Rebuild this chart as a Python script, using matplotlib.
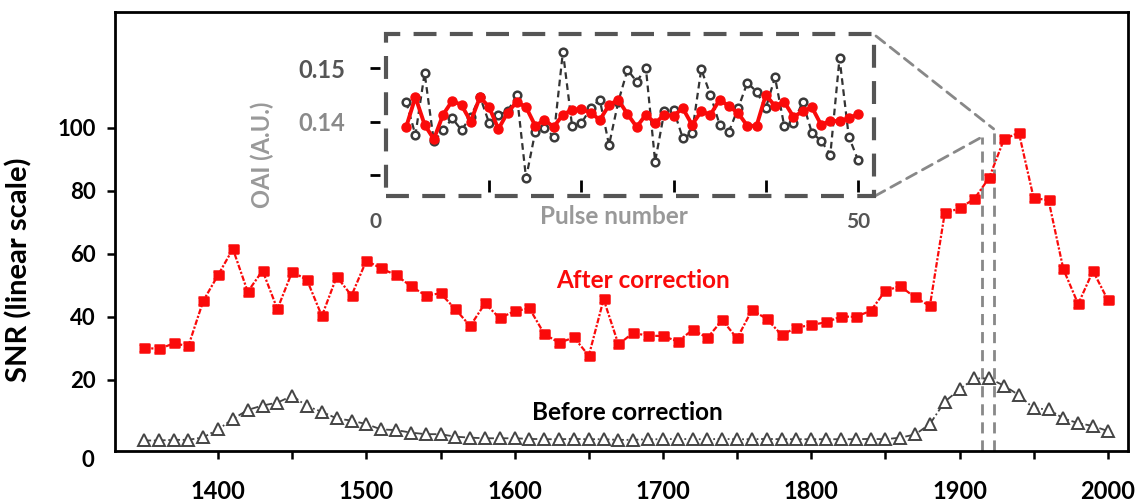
import matplotlib
matplotlib.use("Agg")
import matplotlib.pyplot as plt
from matplotlib.markers import MarkerStyle
from matplotlib.patches import Rectangle, ConnectionPatch

plt.rcParams['font.family'] = ['Lato', 'DejaVu Sans']

# ---- main spectrum data -------------------------------------------------
wavelength = list(range(1350, 2001, 10))

snr_after = [30.3, 29.8, 31.6, 30.8, 45.1, 53.3, 61.6, 48.0, 54.7, 42.5,
             54.4, 51.7, 40.3, 52.8, 46.8, 57.9, 55.4, 53.3, 49.8, 46.8,
             47.5, 42.5, 37.1, 44.3, 39.6, 41.9, 42.7, 34.6, 31.8, 33.5,
             27.7, 45.6, 31.3, 35.0, 34.0, 34.0, 32.2, 35.9, 33.4, 39.0,
             33.2, 42.2, 39.4, 34.3, 36.6, 37.5, 38.3, 40.1, 40.1, 41.9,
             48.3, 49.8, 46.2, 43.5, 72.9, 74.5, 77.5, 84.2, 96.4, 98.5,
             77.7, 77.1, 55.2, 44.1, 54.6, 45.4]

snr_before = [0.8, 0.8, 1.0, 1.0, 1.8,
              4.3, 7.6, 10.5, 11.9, 12.8, 15.0, 11.7, 9.9, 7.8, 7.1,
              6.0, 4.3, 4.1, 3.3, 2.8, 2.8, 2.0, 1.7, 1.5, 1.5, 1.5,
              1.3, 1.2, 1.2, 1.3, 1.2, 1.2, 1.0, 1.0, 1.2, 1.2, 1.3, 1.2,
              1.2, 1.3, 1.2, 1.2, 1.3, 1.2, 1.2, 1.2, 1.2, 1.2, 1.2, 1.3, 1.2,
              1.7, 2.7, 6.0, 13.1, 17.0, 20.5, 20.5, 18.2, 15.2, 11.0, 10.7,
              7.8, 6.3, 5.4, 3.8]

y_ticks = [20, 40, 60, 80, 100]
x_ticks = list(range(1400, 2001, 50))

# wavelengths picked for the pulse-to-pulse inset
marker_lines = [(1915, 97.1), (1923, 99.7)]

# ---- inset data: pulse-to-pulse OAI -------------------------------------
pulses = list(range(1, 51))
oai_after = [0.1390, 0.1446, 0.1394, 0.1367, 0.1413, 0.1439, 0.1431, 0.1400,
             0.1446, 0.1427, 0.1386, 0.1417, 0.1437, 0.1427, 0.1392, 0.1403,
             0.1390, 0.1413, 0.1422, 0.1423, 0.1417, 0.1403, 0.1431, 0.1441,
             0.1414, 0.1390, 0.1413, 0.1397, 0.1413, 0.1411, 0.1425, 0.1394,
             0.1419, 0.1413, 0.1441, 0.1429, 0.1416, 0.1392, 0.1392, 0.1450,
             0.1429, 0.1437, 0.1409, 0.1419, 0.1427, 0.1394, 0.1401, 0.1401,
             0.1406, 0.1414]
oai_before = [0.1437, 0.1375, 0.1491, 0.1363, 0.1384, 0.1406, 0.1384, 0.1409,
              0.1447, 0.1397, 0.1413, 0.1419, 0.1450, 0.1294, 0.1381, 0.1388,
              0.1372, 0.1531, 0.1391, 0.1397, 0.1425, 0.1441, 0.1356, 0.1437,
              0.1497, 0.1475, 0.1500, 0.1325, 0.1419, 0.1422, 0.1369, 0.1378,
              0.1498, 0.1450, 0.1394, 0.1381, 0.1425, 0.1473, 0.1456, 0.1425,
              0.1483, 0.1392, 0.1397, 0.1437, 0.1379, 0.1364, 0.1338, 0.1519,
              0.1372, 0.1328]

W, H = 1137, 501
RED = '#fa0a0a'
fig = plt.figure(figsize=(W / 100, H / 100), dpi=100)


def fig_box(left, top, right, bottom):
    return [left / W, 1 - bottom / H, (right - left) / W, (bottom - top) / H]


ax = fig.add_axes(fig_box(115, 12, 1128, 451))

rounded_box = MarkerStyle([(-1.3, -1), (1.3, -1), (1.3, 1), (-1.3, 1)],
                          joinstyle='round')

ax.plot(wavelength, snr_after, color=RED, lw=1.6, ls=(0, (2.5, 0.8, 1, 0.8)),
        marker=rounded_box, ms=7, mfc=RED, mec=RED, mew=1.8, zorder=3)
ax.plot(wavelength, snr_before, color='#444444', lw=1.3, ls=(0, (4, 1.5, 1, 1.5)),
        marker='^', ms=8, mfc='white', mec='#444444', mew=1.4, zorder=3)

ax.set_xlim(1330.5, 2013.6)
ax.set_ylim(-2.54, 136.8)
ax.set_yticks(y_ticks)
ax.set_yticklabels([str(v) for v in y_ticks])
ax.set_xticks(x_ticks)
ax.set_xticklabels([str(v) if v % 100 == 0 else '' for v in x_ticks])
for s in ax.spines.values():
    s.set_linewidth(2.0)
ax.tick_params(axis='both', direction='out', length=6, width=1.8)
ax.tick_params(axis='x', pad=15, labelsize=17)
ax.tick_params(axis='y', pad=8, labelsize=16)
for lab in ax.get_xticklabels() + ax.get_yticklabels():
    lab.set_fontweight('bold')

ax.text(-0.027, -5.7, '0', transform=ax.get_yaxis_transform(),
        ha='center', va='center', fontsize=16, fontweight='bold')

ax.set_ylabel('SNR (linear scale)', fontsize=21, fontweight='bold')
ax.yaxis.set_label_coords(-0.081, 0.412)

ax.text(1686.6, 51.7, 'After correction', color=RED, fontsize=17.5,
        fontweight='bold', ha='center', va='center')
ax.text(1675.8, 9.8, 'Before correction', color='black', fontsize=17.5,
        fontweight='bold', ha='center', va='center')

for xv, top in marker_lines:
    ax.plot([xv, xv], [-2.54, top], color='#888888', lw=2.0,
            ls=(0, (4, 2.5)), zorder=2, clip_on=False)

# ---- inset -----------------------------------------------------------------
axi = fig.add_axes(fig_box(380, 35, 866, 192))
axi.plot(pulses, oai_before, color='#333333', lw=1.6, ls=(0, (3, 2)),
         marker='o', ms=5.5, mfc='white', mec='#3a3a3a', mew=1.8, zorder=3)
axi.plot(pulses, oai_after, color=RED, lw=2.8, ls='-',
         marker='o', ms=6.5, mfc=RED, mec=RED, mew=1.0, zorder=4)
axi.set_xlim(-1.84, 50.87)
axi.set_ylim(0.1268, 0.15623)
for s in axi.spines.values():
    s.set_visible(False)
axi.set_xticks([10, 20, 30, 40, 50])
axi.set_xticklabels([])
axi.tick_params(axis='x', direction='in', length=9, width=2, color='black')
axi.set_yticks([0.13, 0.14, 0.15])
axi.set_yticklabels(['', '0.14', '0.15'])
axi.tick_params(axis='y', direction='out', length=7, width=2, color='black',
                labelsize=17, pad=18)
for lab, col in zip(axi.get_yticklabels(), ['#888888', '#8a8a8a', '#555555']):
    lab.set_fontweight('bold')
    lab.set_color(col)

fig.text(375 / W, 1 - 222 / H, '0', ha='center', va='center', fontsize=15,
         fontweight='bold', color='#555555')
fig.text(858 / W, 1 - 222 / H, '50', ha='center', va='center', fontsize=15,
         fontweight='bold', color='#555555')
fig.text(614 / W, 1 - 217 / H, 'Pulse number', ha='center', va='center',
         fontsize=17.5, fontweight='bold', color='#999999')
fig.text(262 / W, 1 - 155 / H, 'OAI (A.U.)', ha='center', va='center',
         fontsize=17, fontweight='bold', color='#999999', rotation=90)

# dashed frame around the inset
frame = Rectangle((386 / W, 1 - 196 / H), (874 - 386) / W, (196 - 34) / H,
                  transform=fig.transFigure, fill=False, ec='#555555',
                  lw=3.0, ls=(0, (5.5, 3.2)), zorder=10)
fig.patches.append(frame)

# zoom connectors from inset frame to the selected wavelengths
for (fx, fy), (xv, top) in zip([(875, 196), (876, 36)], marker_lines):
    con = ConnectionPatch(xyA=(fx / W, 1 - fy / H), coordsA=fig.transFigure,
                          xyB=(xv, top), coordsB=ax.transData,
                          color='#888888', lw=2.0, ls=(0, (4, 2.5)))
    fig.add_artist(con)

fig.savefig('out.png', dpi=100)
